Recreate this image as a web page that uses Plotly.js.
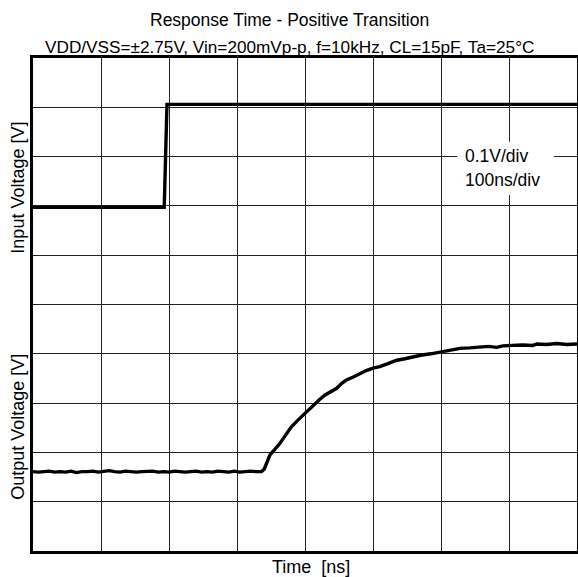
<!DOCTYPE html>
<html>
<head>
<meta charset="utf-8">
<script src="https://cdn.plot.ly/plotly-3.0.1.min.js"></script>
<style>html,body{margin:0;padding:0;background:#fff;}#chart{width:578px;height:577px;}</style>
</head>
<body>
<div id="chart"></div>
<script>
// Time axis in ns (100 ns/div), vertical axis in divisions (0.1 V/div)
const inputTime = [0, 193, 197, 800];
const inputLevel = [6.97, 6.97, 9.06, 9.06];

const outputTime = [0,8,16,24,32,40,48,56,64,72,80,88,96,104,112,120,128,136,144,152,160,168,176,184,192,200,208,216,224,232,240,248,256,264,272,280,288,296,304,312,320,328,336,
  340,344,348.5,355,363,371,380,390,400,407,414.7,421,429,437,446.6,454,461,471,481,490,500,510,522,535,547,559,570,585,601,614,628,642,657,670,682,691,705,720,735,741,755,770,785,800];
const outputLevel = [1.61,1.60,1.61,1.62,1.60,1.61,1.60,1.62,1.59,1.61,1.61,1.62,1.60,1.61,1.63,1.61,1.60,1.62,1.61,1.60,1.61,1.61,1.62,1.60,1.61,1.60,1.62,1.61,1.60,1.61,1.62,1.60,1.61,1.60,1.62,1.61,1.60,1.62,1.60,1.61,1.62,1.61,1.61,
  1.66,1.80,1.95,2.05,2.18,2.34,2.52,2.66,2.79,2.88,3.00,3.07,3.16,3.22,3.30,3.40,3.47,3.53,3.60,3.66,3.71,3.74,3.80,3.87,3.90,3.94,3.97,4.00,4.04,4.07,4.11,4.12,4.13,4.15,4.13,4.16,4.17,4.18,4.17,4.20,4.19,4.21,4.19,4.20];

const chartTitle = "Response Time - Positive Transition";
const chartSubtitle = "VDD/VSS=±2.75V, Vin=200mVp-p, f=10kHz, CL=15pF, Ta=25°C";
const xTitle = "Time  [ns]";
const inputTitle = "Input Voltage [V]";
const outputTitle = "Output Voltage [V]";
const scaleLabels = ["0.1V/div", "100ns/div"];

const FONT = "'Liberation Sans', Arial, sans-serif";

const traces = [
  {x: inputTime, y: inputLevel, mode: 'lines', line: {color: '#000', width: 3.4}, hoverinfo: 'skip'},
  {x: outputTime, y: outputLevel, mode: 'lines', line: {color: '#000', width: 3.4}, hoverinfo: 'skip'}
];

const layout = {
  width: 578, height: 577,
  margin: {l: 33, r: 1, t: 58, b: 26, pad: 0},
  paper_bgcolor: '#fff', plot_bgcolor: '#fff',
  showlegend: false,
  font: {family: FONT, size: 17.5, color: '#000'},
  xaxis: {range: [0, 800], dtick: 100, tick0: 0, showticklabels: false, ticks: '',
    showgrid: true, gridcolor: '#222', gridwidth: 1, zeroline: false,
    showline: true, mirror: true, linecolor: '#000', linewidth: 3, fixedrange: true},
  yaxis: {range: [0, 10], dtick: 1, tick0: 0, showticklabels: false, ticks: '',
    showgrid: true, gridcolor: '#222', gridwidth: 1, zeroline: false,
    showline: true, mirror: true, linecolor: '#000', linewidth: 3, fixedrange: true},
  shapes: [
    {type: 'rect', xref: 'x', yref: 'y', x0: 624, x1: 766, y0: 7.22, y1: 8.30,
      fillcolor: '#fff', line: {width: 0}, layer: 'above'}
  ],
  annotations: [
    {text: chartTitle, xref: 'paper', yref: 'paper', x: 0.4706, y: 1.077, xanchor: 'center', yanchor: 'middle', showarrow: false, font: {size: 17.5}},
    {text: chartSubtitle, xref: 'paper', yref: 'paper', x: 0.4706, y: 1.0223, xanchor: 'center', yanchor: 'middle', showarrow: false, font: {size: 17.2}},
    {text: xTitle, xref: 'paper', yref: 'paper', x: 0.511, y: -0.032, xanchor: 'center', yanchor: 'middle', showarrow: false, font: {size: 18}},
    {text: inputTitle, xref: 'paper', yref: 'paper', x: -0.0276, y: 0.737, xanchor: 'center', yanchor: 'middle', textangle: -90, showarrow: false, font: {size: 18}},
    {text: outputTitle, xref: 'paper', yref: 'paper', x: -0.0276, y: 0.252, xanchor: 'center', yanchor: 'middle', textangle: -90, showarrow: false, font: {size: 18}},
    {text: scaleLabels[0], xref: 'x', yref: 'y', x: 632, y: 8.01, xanchor: 'left', yanchor: 'middle', showarrow: false, font: {size: 17.5}},
    {text: scaleLabels[1], xref: 'x', yref: 'y', x: 632, y: 7.525, xanchor: 'left', yanchor: 'middle', showarrow: false, font: {size: 17.5}}
  ]
};

Plotly.newPlot('chart', traces, layout, {staticPlot: true, displayModeBar: false});
</script>
</body>
</html>
